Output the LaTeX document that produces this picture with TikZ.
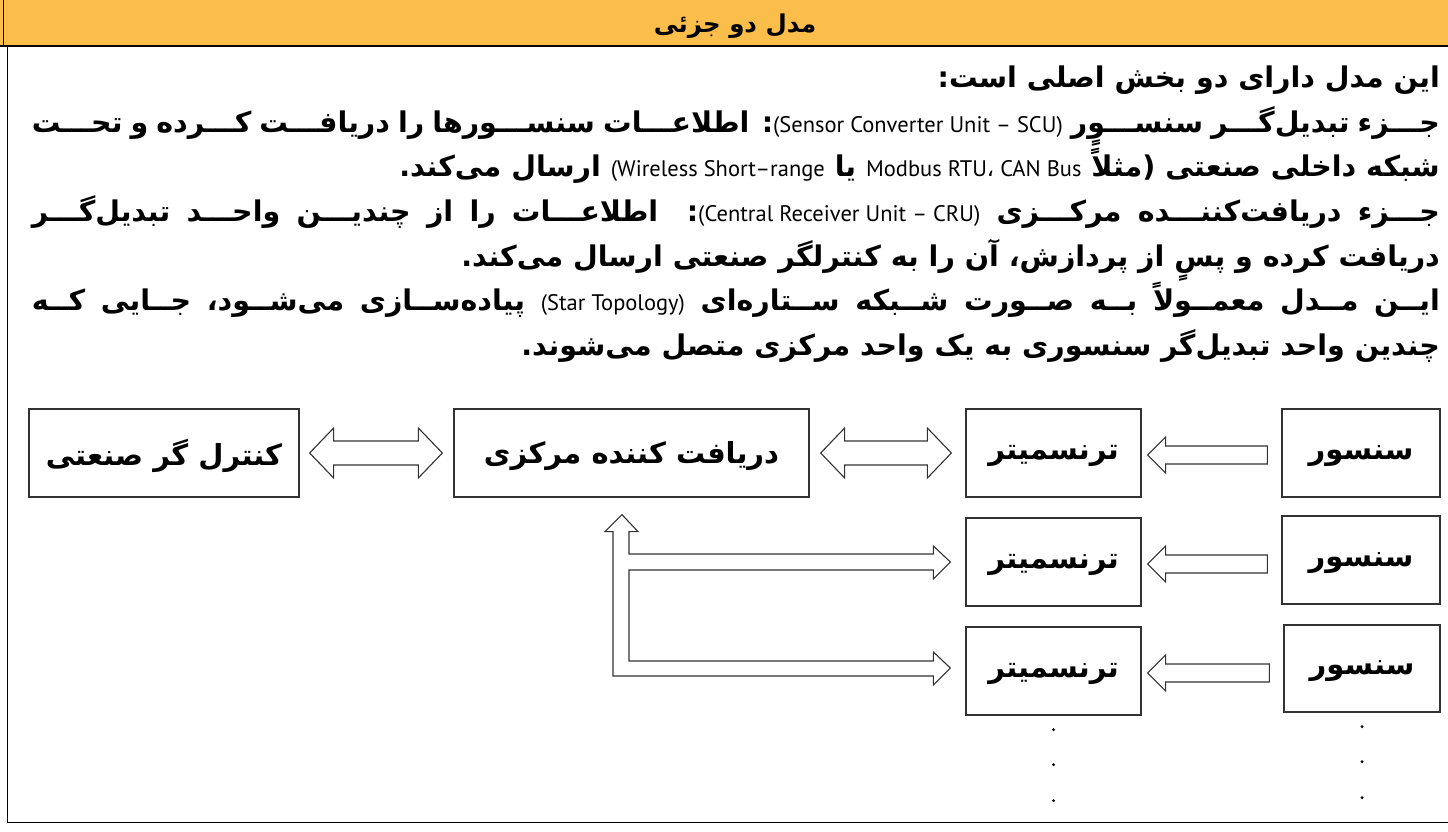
\documentclass[tikz,border=0pt]{standalone}
\usepackage{fontspec}
\usetikzlibrary{calc}
\TeXXeTstate=1
\newfontfamily\fafont[Script=Arabic]{DejaVu Sans}
\newfontfamily\enfont{PT Sans}
\definecolor{hdr}{RGB}{251,190,74}
\definecolor{boxc}{RGB}{50,50,50}
\newcommand\eng[1]{\mbox{\enfont\mdseries\fontsize{22.5}{25}\selectfont\spaceskip=0pt \beginL #1\endL}}
\newcommand\jline[1]{\hbox to 1408pt{\spaceskip=0.25em plus 1fil\beginR #1\endR}}
\newcommand\rline[1]{\hbox{\beginR #1\endR}}
\begin{document}
\begin{tikzpicture}[x=1pt,y=1pt,
 pline/.style={anchor=base east, inner sep=0pt, font=\fafont\bfseries\fontsize{28.5}{32}\selectfont},
 box/.style={draw=boxc, line width=1.3pt, inner sep=0pt},
 blabel/.style={font=\fafont\bfseries\fontsize{29}{32}\selectfont, yshift=-3pt, inner sep=0pt},
 fat/.style={draw=boxc, line width=1.1pt, fill=white, line join=miter},
 dot/.style={fill=black}]
\useasboundingbox (0,0) rectangle (1448,-832);
\fill[hdr] (0,0) rectangle (1448,-46);
\draw[line width=1.3pt] (0,-46) -- (1448,-46);
\draw[line width=1pt] (3,0) -- (3,-46);
\draw[line width=1pt] (7,-46) -- (7,-822) -- (1448,-822);
\node[font=\fafont\bfseries\fontsize{24.5}{28}\selectfont, inner sep=0pt] (title) at (735,-26) {\beginR مدل دو جزئی\endR};
% paragraph
\node[pline] (l1) at (1440,-88) {\rline{این مدل دارای دو بخش اصلی است:}};
\node[pline] (l2) at (1440,-132) {\jline{جـــزء تبدیل‌گـــر سنســـوٍر \eng{(Sensor Converter Unit – SCU)}: اطلاعـــات سنســـورها را دریافـــت کـــرده و تحـــت}};
\node[pline] (l3) at (1440,-176) {\rline{شبکه داخلی صنعتی (مثلاً \eng{Modbus RTU{\fafont ،} CAN Bus} یا \eng{(Wireless Short–range} ارسال می‌کند.}};
\node[pline] (l4) at (1440,-221) {\jline{جـــزء دریافت‌کننـــده مرکـــزی \eng{(Central Receiver Unit – CRU)}: اطلاعـــات را از چندیـــن واحـــد تبدیل‌گـــر}};
\node[pline] (l5) at (1440,-266) {\rline{دریافت کرده و پسٍ از پردازش، آن را به کنترلگر صنعتی ارسال می‌کند.}};
\node[pline] (l6) at (1440,-310) {\jline{ایــن مــدل معمــولاً بــه صــورت شــبکه ســتاره‌ای \eng{(Star Topology)} پیاده‌ســازی می‌شــود، جــایی کــه}};
\node[pline] (l7) at (1440,-355) {\rline{چندین واحد تبدیل‌گر سنسوری به یک واحد مرکزی متصل می‌شوند.}};
% boxes
\node[box, minimum width=270pt, minimum height=88pt, label={[blabel]center:\beginR کنترل گر صنعتی\endR}] (A) at (164,-453) {};
\node[box, minimum width=355pt, minimum height=88pt, label={[blabel]center:\beginR دریافت کننده مرکزی\endR}] (B) at (631.5,-453) {};
\node[box, minimum width=175pt, minimum height=88pt, label={[blabel]center:ترنسمیتر}] (C1) at (1053.5,-453) {};
\node[box, minimum width=158pt, minimum height=88pt, label={[blabel]center:سنسور}] (D1) at (1361,-453) {};
\node[box, minimum width=175pt, minimum height=88pt, label={[blabel]center:ترنسمیتر}] (C2) at (1053.5,-562) {};
\node[box, minimum width=158pt, minimum height=88pt, label={[blabel]center:سنسور}] (D2) at (1361,-560) {};
\node[box, minimum width=175pt, minimum height=88pt, label={[blabel]center:ترنسمیتر}] (C3) at (1053.5,-671) {};
\node[box, minimum width=156pt, minimum height=87pt, label={[blabel]center:سنسور}] (D3) at (1362,-668.5) {};
% double arrows
\coordinate (ab1) at ([xshift=10pt]A.east);
\coordinate (ab2) at ([xshift=-11pt]B.west);
\coordinate (bc1) at ([xshift=11pt]B.east);
\coordinate (bc2) at ([xshift=-14pt]C1.west);
\foreach \p/\q in {ab1/ab2, bc1/bc2}{
\draw[fat] (\p) -- ($(\p)+(24,25)$) -- ($(\p)+(24,12)$) -- ($(\q)+(-24,12)$) -- ($(\q)+(-24,25)$) -- (\q)
 -- ($(\q)+(-24,-25)$) -- ($(\q)+(-24,-12)$) -- ($(\p)+(24,-12)$) -- ($(\p)+(24,-25)$) -- cycle;}
% sensor -> transmitter arrows
\foreach \c/\d in {C1/D1, C2/D2, C3/D3}{
\coordinate (tip\c) at ([xshift=6pt,yshift=-2pt]\c.east);
\coordinate (tail\d) at ([xshift=-14pt]\d.west |- tip\c);
\draw[fat] (tip\c) -- ($(tip\c)+(18,18)$) -- ($(tip\c)+(18,9)$) -- ($(tail\d)+(0,9)$) -- ($(tail\d)+(0,-9)$)
 -- ($(tip\c)+(18,-9)$) -- ($(tip\c)+(18,-18)$) -- cycle;}
% elbow arrow from B to C2 and C3
\coordinate (up) at ([xshift=-9.5pt,yshift=-17pt]B.south);
\coordinate (t2) at ([xshift=-15pt]C2.west);
\coordinate (t3) at ([xshift=-15pt,yshift=3pt]C3.west);
\draw[fat] let \p1=(up), \p2=(t2), \p3=(t3) in
 (\x1-17,\y1-17) -- (\p1) -- (\x1+16,\y1-17) -- (\x1+7,\y1-17) -- (\x1+7,\y2+8) -- (\x2-17,\y2+8) -- (\x2-17,\y2+16)
 -- (\p2) -- (\x2-17,\y2-17) -- (\x2-17,\y2-8) -- (\x1+7,\y2-8) -- (\x1+7,\y3+7) -- (\x3-17,\y3+7) -- (\x3-17,\y3+16)
 -- (\p3) -- (\x3-17,\y3-17) -- (\x3-17,\y3-8) -- (\x1-9,\y3-8) -- (\x1-9,\y1-17) -- cycle;
% continuation dots
\foreach \n in {C3, D3}{
\foreach \k in {14,49,85}{\fill[dot] ([yshift=-\k pt]\n.south) circle (1.6pt);}}
\end{tikzpicture}
\end{document}
